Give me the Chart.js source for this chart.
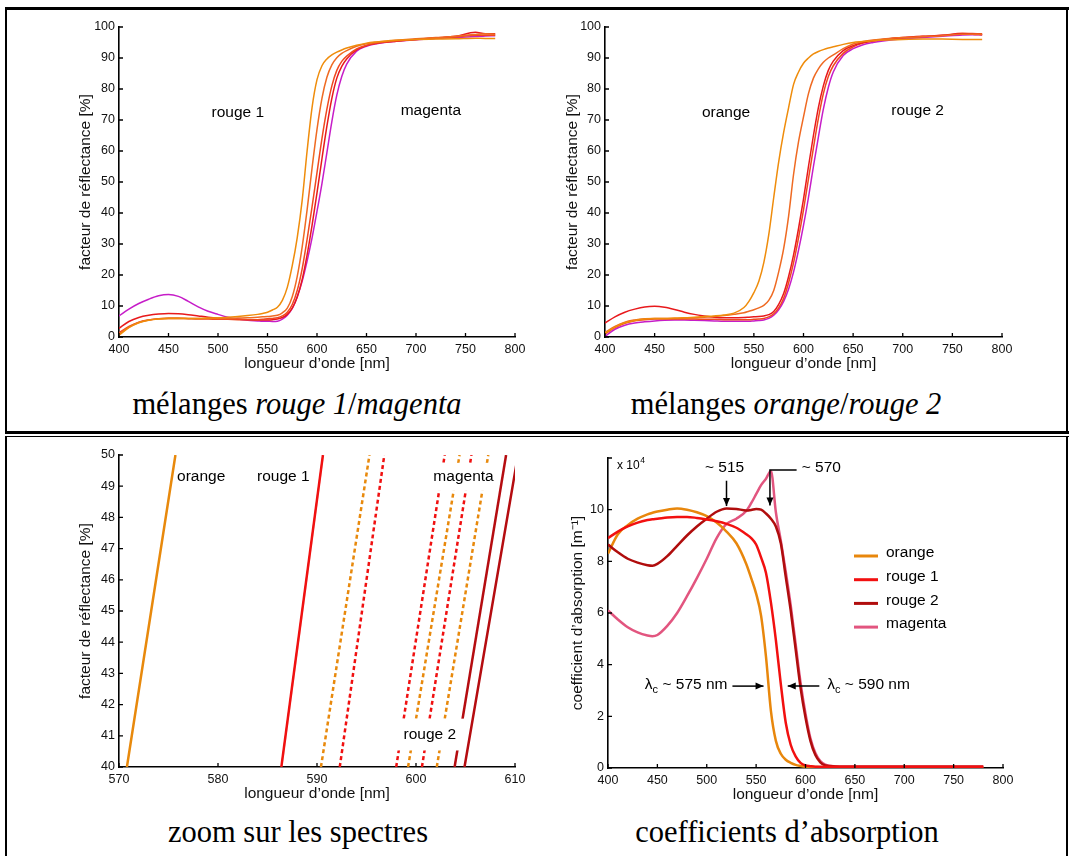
<!DOCTYPE html>
<html>
<head>
<meta charset="utf-8">
<script src="https://cdn.jsdelivr.net/npm/chart.js@4.4.1/dist/chart.umd.min.js"></script>
<style>
html, body { margin: 0; padding: 0; background: #fff; }
body { width: 1069px; height: 856px; position: relative; overflow: hidden; }
.rule { position: absolute; background: #000; }
.cap { position: absolute; font-family: 'Liberation Serif', 'Times New Roman', serif; font-size: 30.5px;
       line-height: 34px; color: #000; white-space: nowrap; transform: translateX(-50%); }
.cap i { font-style: italic; }
</style>
</head>
<body>
<!-- frame -->
<div class="rule" style="left:5px;top:7px;width:1064px;height:3px"></div>
<div class="rule" style="left:5px;top:7px;width:2px;height:425px"></div>
<div class="rule" style="left:1066px;top:7px;width:2px;height:425px"></div>
<div class="rule" style="left:5px;top:431px;width:1064px;height:3px"></div>
<div class="rule" style="left:5px;top:435.5px;width:1064px;height:1.5px"></div>
<div class="rule" style="left:5px;top:436px;width:2px;height:420px"></div>
<div class="rule" style="left:1066px;top:436px;width:2px;height:420px"></div>

<div class="cap" style="left:297px;top:387px">mélanges <i>rouge 1</i>/<i>magenta</i></div>
<div class="cap" style="left:786px;top:387px">mélanges <i>orange</i>/<i>rouge 2</i></div>
<div class="cap" style="left:298px;top:815px">zoom sur les spectres</div>
<div class="cap" style="left:787px;top:815px">coefficients d’absorption</div>

<script>
/* ---------- données ---------- */
// longueurs d'onde communes aux deux panneaux de réflectance [nm]
const lambdaR = [400,410,420,430,440,450,460,470,480,490,500,510,520,530,540,
                 545,550,555,560,565,570,575,580,585,590,595,600,605,610,615,620,625,630,
                 640,650,660,670,680,700,720,740,760,770,780];

// mélanges rouge 1 / magenta [%]
const r1Pur   = [0.6,3.0,4.6,5.4,5.8,6.0,6.0,6.0,6.0,6.1,6.2,6.4,6.6,6.9,7.3,
                 7.6,8.0,8.7,9.6,11.8,16,23,32,44,60,74,83,87.5,89.7,91.0,91.9,92.6,93.2,
                 94.1,94.8,95.2,95.5,95.7,96.0,96.1,96.2,96.4,96.3,96.3];
const r1MixA  = [1.0,3.2,4.7,5.5,5.9,6.1,6.1,6.0,6.0,6.0,6.0,6.0,6.1,6.2,6.4,
                 6.5,6.6,6.8,7.0,7.8,9.3,13,19.5,29,41,54.5,67,77,83.8,87.8,90.1,91.5,92.4,
                 93.8,94.6,95.1,95.4,95.7,96.2,96.6,97.0,97.6,97.8,97.7];
const r1MixB  = [1.3,3.4,4.8,5.5,5.9,6.0,6.0,5.9,5.8,5.8,5.7,5.7,5.6,5.6,5.6,
                 5.7,5.9,6.0,6.2,6.8,8.0,10.5,15,22,31.5,42,53,64,73.5,81,86,88.9,90.6,
                 92.9,94.1,94.8,95.2,95.5,96.0,96.4,96.8,97.3,97.3,97.3];
const r1MixC  = [2.8,5.0,6.3,7.0,7.4,7.6,7.5,7.2,6.8,6.4,6.1,5.9,5.7,5.6,5.5,
                 5.5,5.5,5.6,5.8,6.3,7.3,9.3,12.8,18.5,26.5,36,46.5,57.5,68,77,83.5,87.3,89.7,
                 92.6,94.0,94.7,95.1,95.4,96.0,96.5,97.0,98.3,97.8,97.8];
const magPur  = [6.8,9.0,10.8,12.2,13.3,13.7,13.1,11.5,9.7,8.3,7.3,6.4,5.8,5.4,5.2,
                 5.1,5.1,5.0,5.1,5.8,7.0,9.2,13,18,24.5,32,40.5,49.5,59.5,69.5,78,84,88,
                 92.2,93.8,94.6,95.1,95.4,95.9,96.3,96.6,96.9,97.1,97.2];

// mélanges orange / rouge 2 [%]
const orPur   = [1.2,3.2,4.6,5.3,5.8,6.0,6.0,6.1,6.2,6.4,6.6,6.8,7.1,7.7,9.5,
                 11.5,14.3,18,24,33,45,56.5,66,74,81.5,85.5,88.3,90.0,91.3,92.1,92.7,93.2,93.6,
                 94.4,95.0,95.3,95.6,95.8,96.0,96.1,96.1,96.0,96.0,96.0];
const orMix1  = [1.5,3.4,4.8,5.5,5.9,6.0,6.0,6.0,6.1,6.2,6.4,6.6,6.9,7.3,7.8,
                 8.3,8.8,9.4,10.2,11.8,15,21,28.5,39,52.5,63,71,78.5,83.5,86.5,88.6,90.0,91.0,
                 93.0,94.5,95.3,95.8,96.1,96.6,96.9,97.2,97.7,97.7,97.6];
const orMix2  = [4.5,6.5,8.0,9.0,9.7,9.9,9.6,8.9,8.0,7.3,6.8,6.4,6.2,6.2,6.3,
                 6.4,6.5,6.6,6.8,7.2,8.2,10.5,14,19.5,26.5,35,44.5,55,65,74,81,86,89,
                 92.4,94.0,95.0,95.6,96.0,96.6,97.0,97.3,97.8,97.7,97.5];
const orMix3  = [1.0,3.0,4.4,5.2,5.6,5.8,5.8,5.8,5.8,5.8,5.7,5.7,5.6,5.6,5.6,
                 5.6,5.7,5.8,6.0,6.5,7.5,9.4,12.5,17.5,24,32,41,51,61,70.5,78.5,84,87.5,
                 91.5,93.6,94.8,95.5,95.9,96.5,96.9,97.3,98.0,97.9,97.8];
const r2Pur   = [0.2,2.5,3.8,4.5,4.9,5.2,5.4,5.5,5.5,5.4,5.3,5.2,5.1,5.1,5.1,
                 5.1,5.2,5.3,5.5,6.0,7.0,8.8,11.5,15.5,21,28,36,45,55,64.5,73.5,80.5,85.5,
                 90.8,93.0,94.3,95.0,95.5,96.2,96.6,97.0,97.4,97.5,97.5];

// zoom : longueur d'onde à 40 % et à 50 % de réflectance
const zoomLevels = [40, 50];
const zOrange  = [570.8, 575.7];
const zRouge1  = [586.4, 590.6];
const zMagenta = [603.9, 609.1];
const zRouge2  = [604.9, 610.3];
const zMixOR1 = [590.4, 595.3], zMixOR2 = [599.2, 604.4], zMixOR3 = [602.1, 607.3];
const zMixRM1 = [592.3, 596.8], zMixRM2 = [598.0, 602.9], zMixRM3 = [600.6, 605.6];

// coefficients d'absorption [x 10^4 m^-1]
const lambdaA = [400,410,420,430,440,445,450,460,470,480,490,500,510,520,530,540,
                 545,550,555,560,565,570,575,580,585,590,595,600,605,610,615,620,
                 630,640,650,700,750,780];
const kOrange  = [8.3,9.05,9.4,9.65,9.82,9.88,9.93,10.0,10.05,10.0,9.9,9.75,9.5,9.15,8.7,7.9,
                  7.35,6.75,5.9,4.3,2.2,1.05,0.55,0.32,0.2,0.12,0.08,0.05,0.04,0.04,0.03,0.03,
                  0.03,0.03,0.03,0.03,0.03,0.03];
const kRouge1  = [8.9,9.15,9.35,9.5,9.6,9.63,9.65,9.7,9.72,9.72,9.68,9.62,9.55,9.45,9.3,9.05,
                  8.9,8.65,8.15,7.55,6.4,4.95,3.25,1.75,0.9,0.45,0.2,0.1,0.07,0.05,0.05,0.05,
                  0.05,0.05,0.05,0.05,0.05,0.05];
const kRouge2  = [8.65,8.35,8.1,7.95,7.85,7.83,7.9,8.2,8.6,9.0,9.35,9.65,9.92,10.05,10.03,9.97,
                  9.99,10.03,10.0,9.85,9.65,9.35,8.7,7.4,6.1,4.6,3.1,1.95,1.05,0.5,0.22,0.1,
                  0.06,0.05,0.05,0.05,0.05,0.05];
const kMagenta = [6.1,5.75,5.45,5.25,5.13,5.1,5.15,5.5,6.0,6.65,7.35,8.1,8.9,9.45,9.65,9.95,
                  10.25,10.6,10.95,11.2,11.5,9.9,8.8,7.6,6.3,4.8,3.3,2.1,1.15,0.58,0.27,0.13,
                  0.06,0.05,0.05,0.05,0.05,0.05];

/* ---------- style ---------- */
const SANS = "'Liberation Sans', Arial, Helvetica, sans-serif";
const C = {
  ink:     '#111',
  orange:  '#ef8c0b',
  orRed:   '#ef6a22',
  redOr:   '#f0481e',
  red:     '#e8191c',
  magenta: '#c61dc8',
  zOrange: '#e8890c',
  zRed:    '#f01010',
  zDark:   '#b50c10',
  kOrange: '#e8870c',
  kRed:    '#f21010',
  kDark:   '#b00d0d',
  kPink:   '#e2557f',
};

Chart.defaults.font.family = SANS;
Chart.defaults.color = C.ink;
Chart.defaults.animation = false;
Chart.defaults.events = [];
Chart.defaults.plugins.legend.display = false;
Chart.defaults.plugins.tooltip.enabled = false;

const PL = 52, PT = 12, PR = 16, PB = 42;

/* ---------- helpers ---------- */
function mount(area) {
  const c = document.createElement('canvas');
  const w = area.w + PL + PR, h = area.h + PT + PB;
  c.width = w; c.height = h;
  c.style.cssText = `position:absolute;left:${area.x - PL}px;top:${area.y - PT}px;width:${w}px;height:${h}px`;
  document.body.appendChild(c);
  return c.getContext('2d');
}

function pts(xs, ys) { return xs.map((x, i) => ({ x, y: ys[i] })); }

function curve(xs, ys, color, width, dash) {
  return {
    data: pts(xs, ys),
    borderColor: color,
    borderWidth: width,
    borderDash: dash || [],
    pointRadius: 0,
    fill: false,
    cubicInterpolationMode: 'monotone',
  };
}

function axes(o) {
  return {
    x: {
      type: 'linear', min: o.xmin, max: o.xmax,
      ticks: { stepSize: o.xstep, padding: 5, autoSkip: false, maxRotation: 0, font: { size: 12.5 }, color: C.ink },
      grid: { display: false, drawTicks: false },
      border: { display: true, color: '#000', width: 1.6 },
      title: { display: true, text: 'longueur d’onde [nm]', font: { size: 15.5 }, color: C.ink, padding: { top: 0, bottom: 5.7 } },
      afterFit: s => { s.height = PB; },
    },
    y: {
      min: o.ymin, max: o.ymax,
      ticks: { stepSize: o.ystep, padding: 4, autoSkip: false, font: { size: 12.5 }, color: C.ink,
               callback: o.yfmt || (v => v) },
      grid: { display: false, drawTicks: false },
      border: { display: true, color: '#000', width: 1.6 },
      title: { display: true, text: o.ytitle, font: { size: 15.5 }, color: C.ink, padding: { top: o.ypad, bottom: 0 } },
      afterFit: s => { s.width = PL; },
    },
  };
}

// petites graduations tournées vers l'intérieur
const inTicks = {
  id: 'inTicks',
  afterDraw(chart) {
    const { ctx, chartArea: a, scales: { x, y } } = chart;
    ctx.save();
    ctx.strokeStyle = '#000';
    ctx.lineWidth = 1.3;
    ctx.beginPath();
    x.ticks.forEach(t => { const p = x.getPixelForValue(t.value); ctx.moveTo(p, a.bottom); ctx.lineTo(p, a.bottom - 4); });
    y.ticks.forEach(t => { const p = y.getPixelForValue(t.value); ctx.moveTo(a.left, p); ctx.lineTo(a.left + 4, p); });
    ctx.stroke();
    ctx.restore();
  }
};
Chart.register(inTicks);

function arrow(ctx, p) {
  ctx.beginPath();
  p.forEach((q, i) => i ? ctx.lineTo(q[0], q[1]) : ctx.moveTo(q[0], q[1]));
  ctx.stroke();
  const a = p[p.length - 2], b = p[p.length - 1];
  const ang = Math.atan2(b[1] - a[1], b[0] - a[0]);
  const L = 8, W = 3.5, c = Math.cos(ang), s = Math.sin(ang);
  ctx.beginPath();
  ctx.moveTo(b[0], b[1]);
  ctx.lineTo(b[0] - L * c + W * s, b[1] - L * s - W * c);
  ctx.lineTo(b[0] - L * c - W * s, b[1] - L * s + W * c);
  ctx.closePath();
  ctx.fill();
}

function lambdaC(ctx, px, py, rest, align) {
  const big = '15.5px ' + SANS, small = '11px ' + SANS;
  ctx.font = big;
  const wl = ctx.measureText('λ').width, wr = ctx.measureText(rest).width;
  ctx.font = small;
  const wc = ctx.measureText('c').width;
  const x0 = align === 'right' ? px - (wl + wc + wr) : px;
  ctx.textAlign = 'left';
  ctx.textBaseline = 'middle';
  ctx.font = big;  ctx.fillText('λ', x0, py);
  ctx.font = small; ctx.fillText('c', x0 + wl, py + 5);
  ctx.font = big;  ctx.fillText(rest, x0 + wl + wc, py);
}

// annotations en coordonnées de données
function notes(items) {
  return {
    id: 'notes',
    afterDatasetsDraw(chart) {
      const { ctx, chartArea: a, scales: { x, y } } = chart;
      const X = v => x.getPixelForValue(v), Y = v => y.getPixelForValue(v);
      ctx.save();
      ctx.fillStyle = '#000';
      ctx.strokeStyle = '#000';
      ctx.lineWidth = 1.5;
      items.forEach(it => {
        if (it.box) {
          ctx.fillStyle = '#fff';
          const [x0, x1, y0, y1] = it.box;
          ctx.fillRect(X(x0), Y(y1), X(x1) - X(x0), Y(y0) - Y(y1));
          ctx.fillStyle = '#000';
        }
        if (it.t === 'text') {
          ctx.font = '15.5px ' + SANS;
          ctx.textAlign = 'center';
          ctx.textBaseline = 'middle';
          ctx.fillText(it.s, X(it.at[0]), Y(it.at[1]));
        } else if (it.t === 'arrow') {
          arrow(ctx, it.p.map(q => [X(q[0]), Y(q[1])]));
        } else if (it.t === 'lam') {
          lambdaC(ctx, X(it.at[0]), Y(it.at[1]), it.s, it.align);
        } else if (it.t === 'exp') {
          ctx.textAlign = 'left';
          ctx.textBaseline = 'middle';
          ctx.font = '12px ' + SANS;
          const px = a.left + 9, py = a.top + 8;
          ctx.fillText('x 10', px, py);
          const w = ctx.measureText('x 10').width;
          ctx.font = '8.5px ' + SANS;
          ctx.fillText('4', px + w + 0.5, py - 5);
        } else if (it.t === 'legend') {
          ctx.textAlign = 'left';
          ctx.textBaseline = 'middle';
          ctx.font = '15.5px ' + SANS;
          it.rows.forEach((r, i) => {
            const py = a.top + 95 + i * 23.7;
            ctx.strokeStyle = r[1];
            ctx.lineWidth = 3;
            ctx.beginPath();
            ctx.moveTo(a.left + 246, py + 3);
            ctx.lineTo(a.left + 270, py + 3);
            ctx.stroke();
            ctx.fillText(r[0], a.left + 278, py);
          });
          ctx.strokeStyle = '#000';
          ctx.lineWidth = 1.5;
        }
      });
      ctx.restore();
    }
  };
}

/* ---------- 1 : mélanges rouge 1 / magenta ---------- */
new Chart(mount({ x: 119, y: 27, w: 396, h: 310 }), {
  type: 'line',
  data: { datasets: [
    curve(lambdaR, r1Pur,  C.orange, 1.5),
    curve(lambdaR, r1MixA, C.orRed, 1.5),
    curve(lambdaR, r1MixB, C.redOr, 1.5),
    curve(lambdaR, r1MixC, C.red, 1.5),
    curve(lambdaR, magPur, C.magenta, 1.5),
  ]},
  options: {
    responsive: false,
    layout: { padding: { top: PT, right: PR, left: 0, bottom: 0 } },
    scales: axes({ xmin: 400, xmax: 800, xstep: 50, ymin: 0, ymax: 100, ystep: 10,
                   ytitle: 'facteur de réflectance [%]', ypad: 9.7 }),
  },
  plugins: [notes([
    { t: 'text', at: [520, 72.3], s: 'rouge 1' },
    { t: 'text', at: [715, 72.9], s: 'magenta' },
  ])],
});

/* ---------- 2 : mélanges orange / rouge 2 ---------- */
new Chart(mount({ x: 605, y: 27, w: 397, h: 310 }), {
  type: 'line',
  data: { datasets: [
    curve(lambdaR, orPur,  C.orange, 1.5),
    curve(lambdaR, orMix1, C.orRed, 1.5),
    curve(lambdaR, orMix2, C.red, 1.5),
    curve(lambdaR, orMix3, C.redOr, 1.5),
    curve(lambdaR, r2Pur,  C.magenta, 1.5),
  ]},
  options: {
    responsive: false,
    layout: { padding: { top: PT, right: PR, left: 0, bottom: 0 } },
    scales: axes({ xmin: 400, xmax: 800, xstep: 50, ymin: 0, ymax: 100, ystep: 10,
                   ytitle: 'facteur de réflectance [%]', ypad: 10.3 }),
  },
  plugins: [notes([
    { t: 'text', at: [522, 72.5], s: 'orange' },
    { t: 'text', at: [715, 72.9], s: 'rouge 2' },
  ])],
});

/* ---------- 3 : zoom sur les spectres ---------- */
const DOT = [4, 3];
new Chart(mount({ x: 119, y: 455, w: 396, h: 312 }), {
  type: 'line',
  data: { datasets: [
    curve(zOrange,  zoomLevels, C.zOrange, 2.5),
    curve(zRouge1,  zoomLevels, C.zRed, 2.5),
    curve(zMixOR1,  zoomLevels, C.zOrange, 2.5, DOT),
    curve(zMixRM1,  zoomLevels, C.zRed, 2.5, DOT),
    curve(zMixRM2,  zoomLevels, C.zRed, 2.5, DOT),
    curve(zMixOR2,  zoomLevels, C.zOrange, 2.5, DOT),
    curve(zMixRM3,  zoomLevels, C.zRed, 2.5, DOT),
    curve(zMixOR3,  zoomLevels, C.zOrange, 2.5, DOT),
    curve(zMagenta, zoomLevels, C.zDark, 2.5),
    curve(zRouge2,  zoomLevels, C.zDark, 2.5),
  ]},
  options: {
    responsive: false,
    layout: { padding: { top: PT, right: PR, left: 0, bottom: 0 } },
    scales: axes({ xmin: 570, xmax: 610, xstep: 10, ymin: 40, ymax: 50, ystep: 1,
                   ytitle: 'facteur de réflectance [%]', ypad: 9.7 }),
  },
  plugins: [notes([
    { t: 'text', at: [578.3, 49.3], s: 'orange' },
    { t: 'text', at: [586.6, 49.3], s: 'rouge 1' },
    { t: 'text', at: [604.8, 49.3], s: 'magenta', box: [601.4, 608.1, 48.85, 49.75] },
    { t: 'text', at: [601.4, 41.05], s: 'rouge 2', box: [597.9, 604.9, 40.53, 41.55] },
  ])],
});

/* ---------- 4 : coefficients d'absorption ---------- */
new Chart(mount({ x: 608, y: 458, w: 395, h: 310 }), {
  type: 'line',
  data: { datasets: [
    curve(lambdaA, kRouge1,  C.kRed, 2.5),
    curve(lambdaA, kRouge2,  C.kDark, 2.5),
    curve(lambdaA, kOrange,  C.kOrange, 2.5),
    curve(lambdaA, kMagenta, C.kPink, 2.5),
  ]},
  options: {
    responsive: false,
    layout: { padding: { top: PT, right: PR, left: 0, bottom: 0 } },
    scales: axes({ xmin: 400, xmax: 800, xstep: 50, ymin: 0, ymax: 12, ystep: 2,
                   yfmt: v => (v === 12 ? '' : v),
                   ytitle: 'coefficient d’absorption [m⁻¹]', ypad: 12.7 }),
  },
  plugins: [notes([
    { t: 'exp' },
    { t: 'text', at: [518, 11.64], s: '~ 515' },
    { t: 'arrow', p: [[520, 11.12], [520, 10.14]] },
    { t: 'text', at: [616, 11.64], s: '~ 570' },
    { t: 'arrow', p: [[591, 11.54], [564, 11.54], [564, 10.16]] },
    { t: 'lam', at: [521, 3.22], s: ' ~ 575 nm', align: 'right' },
    { t: 'arrow', p: [[526, 3.17], [557.5, 3.17]] },
    { t: 'lam', at: [622, 3.22], s: ' ~ 590 nm', align: 'left' },
    { t: 'arrow', p: [[614, 3.17], [582, 3.17]] },
    { t: 'legend', rows: [['orange', C.kOrange], ['rouge 1', C.kRed], ['rouge 2', C.kDark], ['magenta', C.kPink]] },
  ])],
});
</script>
</body>
</html>
